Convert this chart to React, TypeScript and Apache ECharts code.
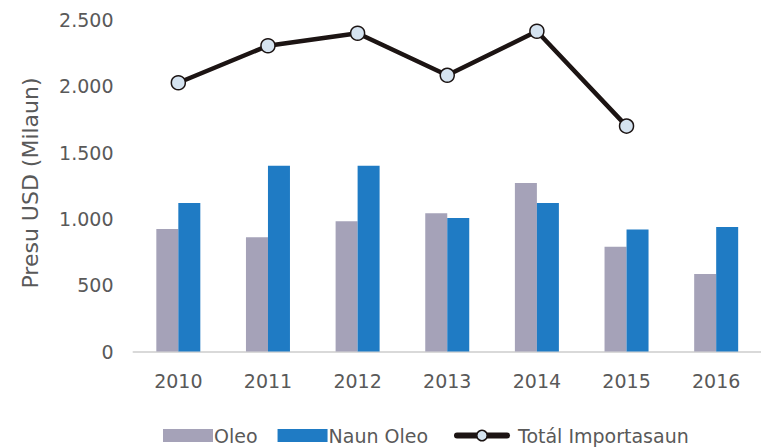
import React, { useEffect, useRef } from "react";
import * as echarts from "echarts";

const categories = ["2010", "2011", "2012", "2013", "2014", "2015", "2016"];
const oleo = [924, 861, 982, 1042, 1271, 790, 584];
const naunOleo = [1120, 1401, 1401, 1007, 1120, 921, 939];
const totalImport: (number | null)[] = [2027, 2306, 2400, 2083, 2415, 1700, null];
const yTicks = { min: 0, max: 2500, interval: 500 };

const FONT = "DejaVu Sans";
const TXT = "#595959";
const LINE = "#1c1413";

export default function App() {
  const ref = useRef<HTMLDivElement>(null);
  useEffect(() => {
    if (!ref.current) return;
    const chart = echarts.init(ref.current, undefined, { renderer: "svg" });
    const legendText = { fontFamily: FONT, fontSize: 19, color: TXT, padding: [0, 0, 0, -4] };
    chart.setOption({
      animation: false,
      backgroundColor: "#ffffff",
      grid: { left: 133.5, top: 20, width: 640.5, height: 331.5, containLabel: false },
      legend: [
        {
          top: 426,
          left: 163,
          padding: 0,
          itemWidth: 50,
          itemHeight: 13,
          itemGap: 20,
          textStyle: legendText,
          data: [
            { name: "Oleo", icon: "rect" },
            { name: "Naun Oleo", icon: "rect" },
          ],
        },
        {
          top: 426,
          left: 454,
          padding: 0,
          itemWidth: 50,
          itemHeight: 13,
          textStyle: { ...legendText, padding: [0, 0, 0, 6] },
          data: [
            {
              name: "Totál Importasaun",
              lineStyle: { width: 6, color: LINE, cap: "round" },
              itemStyle: { color: "#d5e3f0", borderColor: LINE, borderWidth: 1.5 },
            },
          ],
        },
      ],
      graphic: [
        {
          type: "text",
          x: 30,
          y: 183,
          rotation: Math.PI / 2,
          style: {
            text: "Presu USD (Milaun)",
            fontFamily: FONT,
            fontSize: 22,
            fill: TXT,
            align: "center",
            verticalAlign: "middle",
          },
        },
      ],
      xAxis: {
        type: "category",
        data: categories,
        axisLine: { show: true, lineStyle: { color: "#d9d9d9", width: 2 } },
        axisTick: { show: false },
        axisLabel: { fontFamily: FONT, fontSize: 19, color: TXT, margin: 20 },
      },
      yAxis: {
        type: "value",
        min: yTicks.min,
        max: yTicks.max,
        interval: yTicks.interval,
        splitLine: { show: false },
        axisLine: { show: false },
        axisTick: { show: false },
        axisLabel: {
          fontFamily: FONT,
          fontSize: 19,
          color: TXT,
          margin: 20,
          formatter: (v: number) => v.toLocaleString("de-DE"),
        },
      },
      series: [
        {
          name: "Oleo",
          type: "bar",
          data: oleo,
          barWidth: 22,
          barGap: "0%",
          itemStyle: { color: "#a5a2b8" },
        },
        {
          name: "Naun Oleo",
          type: "bar",
          data: naunOleo,
          barWidth: 22,
          itemStyle: { color: "#1f7bc4" },
        },
        {
          name: "Totál Importasaun",
          type: "line",
          data: totalImport,
          symbol: "circle",
          symbolSize: 14,
          showAllSymbol: true,
          lineStyle: { color: LINE, width: 4.5 },
          itemStyle: { color: "#d5e3f0", borderColor: LINE, borderWidth: 1.5 },
          z: 5,
        },
      ],
    });
    return () => chart.dispose();
  }, []);
  return (
    <div
      ref={ref}
      style={{ position: "absolute", left: 0, top: 0, width: 761, height: 448, overflow: "hidden" }}
    />
  );
}
